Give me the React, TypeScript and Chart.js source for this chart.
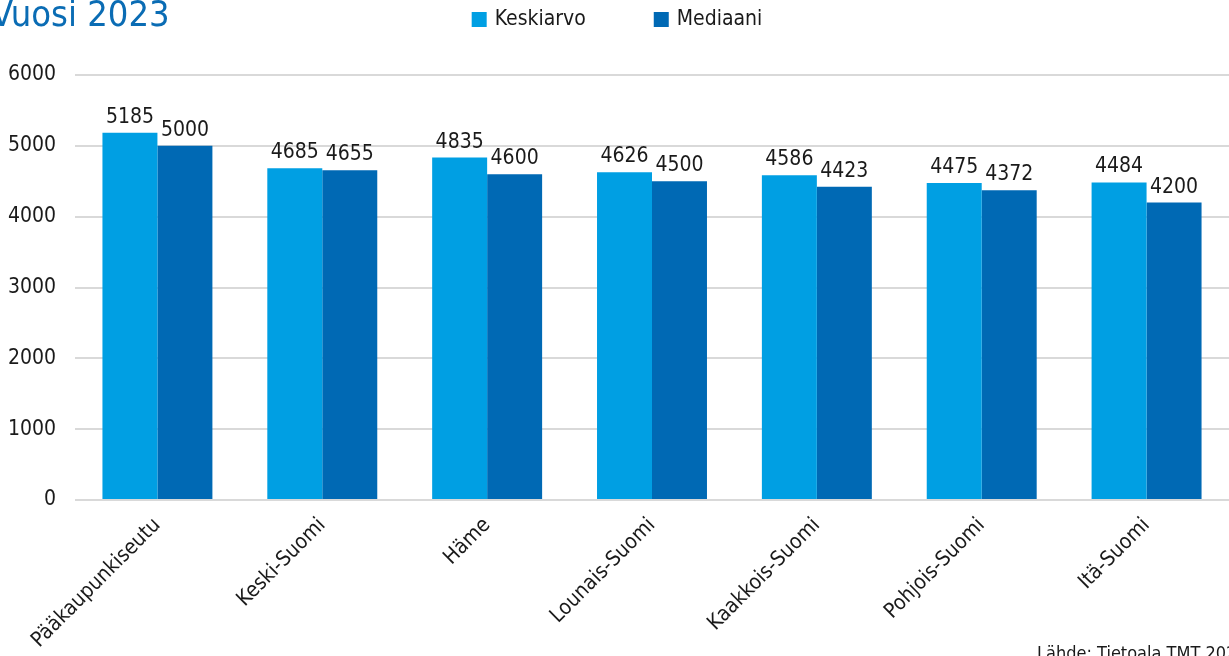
import React, { useEffect, useRef } from "react";
import { Chart, registerables } from "chart.js";

Chart.register(...registerables);

const categories = [
  "Pääkaupunkiseutu",
  "Keski-Suomi",
  "Häme",
  "Lounais-Suomi",
  "Kaakkois-Suomi",
  "Pohjois-Suomi",
  "Itä-Suomi",
];
const seriesNames = ["Keskiarvo", "Mediaani"];
const keskiarvo = [5185, 4685, 4835, 4626, 4586, 4475, 4484];
const mediaani = [5000, 4655, 4600, 4500, 4423, 4372, 4200];
const yTicks = [0, 1000, 2000, 3000, 4000, 5000, 6000];
const titleText = "Vuosi 2023";
const sourceText = "Lähde: Tietoala TMT 2023";

const FONT = "'DejaVu Sans Condensed', 'Liberation Sans Narrow', 'DejaVu Sans', sans-serif";
const COLORS = ["#009fe3", "#0069b4"];
const TEXT = "#1a1a1a";

const decorPlugin = {
  id: "decor",
  afterDraw(chart: any) {
    const ctx = chart.ctx as CanvasRenderingContext2D;
    ctx.save();
    // title
    ctx.fillStyle = "#0a6cb4";
    ctx.font = `normal 36px ${FONT}`;
    ctx.textAlign = "left";
    ctx.textBaseline = "alphabetic";
    ctx.fillText(titleText, -9, 26);
    // legend
    ctx.font = `normal 21px ${FONT}`;
    const box = 15;
    const gap = 8;
    const itemGap = 68;
    const widths = seriesNames.map((n) => box + gap + ctx.measureText(n).width);
    const total = widths.reduce((a, b) => a + b, 0) + itemGap * (seriesNames.length - 1);
    let x = 617 - total / 2;
    seriesNames.forEach((n, i) => {
      ctx.fillStyle = COLORS[i];
      ctx.fillRect(x, 12, box, box);
      ctx.fillStyle = TEXT;
      ctx.textBaseline = "middle";
      ctx.fillText(n, x + box + gap, 20);
      x += widths[i] + itemGap;
    });
    // source
    ctx.font = `normal 18px ${FONT}`;
    ctx.textBaseline = "alphabetic";
    ctx.fillStyle = TEXT;
    ctx.fillText(sourceText, 1037, 659);
    ctx.restore();
  },
};

const valueLabelPlugin = {
  id: "valueLabels",
  afterDatasetsDraw(chart: any) {
    const ctx = chart.ctx as CanvasRenderingContext2D;
    ctx.save();
    ctx.font = `normal 21px ${FONT}`;
    ctx.fillStyle = TEXT;
    ctx.textAlign = "center";
    ctx.textBaseline = "alphabetic";
    chart.data.datasets.forEach((ds: any, di: number) => {
      const meta = chart.getDatasetMeta(di);
      meta.data.forEach((bar: any, i: number) => {
        ctx.fillText(String(ds.data[i]), bar.x, bar.y - 10);
      });
    });
    ctx.restore();
  },
};

export default function App() {
  const ref = useRef<HTMLCanvasElement | null>(null);
  useEffect(() => {
    document.body.style.margin = "0";
    const canvas = ref.current;
    if (!canvas) return;
    const chart = new Chart(canvas, {
      type: "bar",
      data: {
        labels: categories,
        datasets: [
          { label: seriesNames[0], data: keskiarvo, backgroundColor: COLORS[0], borderWidth: 0 },
          { label: seriesNames[1], data: mediaani, backgroundColor: COLORS[1], borderWidth: 0 },
        ],
      },
      options: {
        responsive: false,
        animation: false,
        layout: { padding: { top: 75, left: 0, right: 0, bottom: 0 } },
        datasets: { bar: { categoryPercentage: 0.667, barPercentage: 1.0 } },
        plugins: {
          legend: { display: false },
          title: { display: false },
          tooltip: { enabled: false },
        },
        scales: {
          x: {
            grid: { display: false },
            border: { display: false },
            ticks: {
              color: TEXT,
              font: { family: FONT, size: 21 },
              minRotation: 45,
              maxRotation: 45,
              autoSkip: false,
              padding: 5,
            },
            afterFit(scale: any) {
              scale.height = 156;
            },
          },
          y: {
            min: 0,
            max: 6000,
            afterBuildTicks(scale: any) {
              scale.ticks = yTicks.map((v) => ({ value: v }));
            },
            grid: { color: "#d9d9d9", lineWidth: 2, drawTicks: false },
            border: { display: false },
            ticks: {
              color: TEXT,
              font: { family: FONT, size: 21 },
              padding: 19,
              callback: (v: any) => String(v),
            },
            afterFit(scale: any) {
              scale.width = 75;
            },
          },
        },
      },
      plugins: [valueLabelPlugin, decorPlugin],
    });
    return () => chart.destroy();
  }, []);
  return (
    <div style={{ width: 1229, height: 656, overflow: "hidden" }}>
      <canvas ref={ref} width={1229} height={656} style={{ display: "block" }} />
    </div>
  );
}
